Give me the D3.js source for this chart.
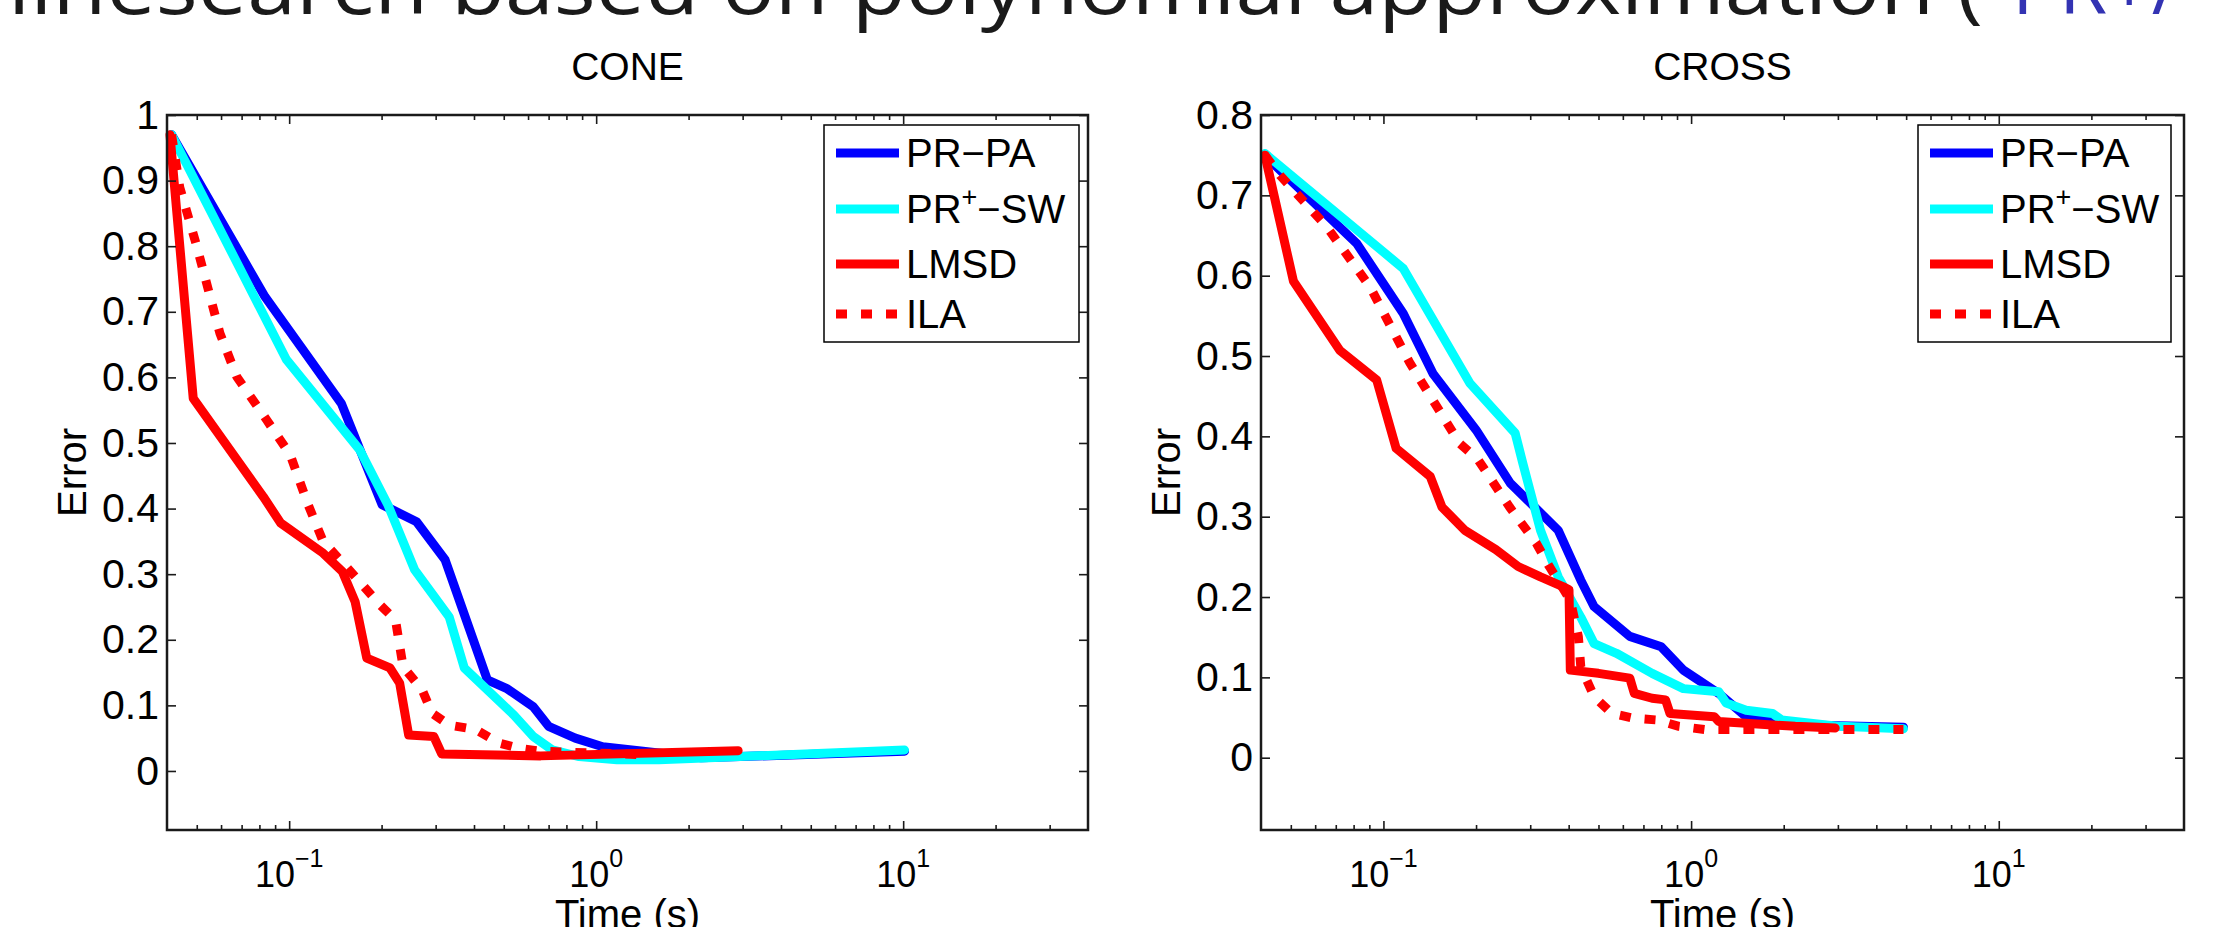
<!DOCTYPE html>
<html><head><meta charset="utf-8">
<script src="https://cdn.jsdelivr.net/npm/d3@7"></script>
<style>html,body{margin:0;padding:0;background:#fff;overflow:hidden}</style>
</head><body><svg id="chart" width="2214" height="927"></svg>
<script>
// ---------- data ----------
const pageTitleBlack = "linesearch based on polynomial approximation (";
const pageTitleBlue = "PR+/";
const panelTitles = ["CONE", "CROSS"];
const seriesNames = ["PR−PA", "PR+−SW", "LMSD", "ILA"];
const xLabel = "Time (s)";
const yLabel = "Error";
const xMajorTicks = [0.1, 1, 10];
const xTickExponents = ["−1", "0", "1"];
const coneYTicks = [0, 0.1, 0.2, 0.3, 0.4, 0.5, 0.6, 0.7, 0.8, 0.9, 1];
const coneYTickLabels = ["0", "0.1", "0.2", "0.3", "0.4", "0.5", "0.6", "0.7", "0.8", "0.9", "1"];
const crossYTicks = [0, 0.1, 0.2, 0.3, 0.4, 0.5, 0.6, 0.7, 0.8];
const crossYTickLabels = ["0", "0.1", "0.2", "0.3", "0.4", "0.5", "0.6", "0.7", "0.8"];

// CONE
const conePRPA_t = [0.0414, 0.0834, 0.148, 0.2007, 0.26, 0.322, 0.442, 0.51, 0.624, 0.70, 0.855, 1.05, 2.2, 10.1];
const conePRPA_e = [0.97, 0.723, 0.56, 0.406, 0.38, 0.322, 0.139, 0.126, 0.098, 0.068, 0.05, 0.037, 0.02, 0.03];
const conePRSW_t = [0.0414, 0.098, 0.17, 0.21, 0.256, 0.332, 0.372, 0.54, 0.624, 0.72, 0.88, 1.17, 1.6, 10.1];
const conePRSW_e = [0.97, 0.627, 0.489, 0.405, 0.307, 0.235, 0.157, 0.085, 0.0525, 0.032, 0.022, 0.017, 0.017, 0.032];
const coneLMSD_t = [0.0409, 0.0487, 0.0824, 0.0938, 0.129, 0.149, 0.164, 0.179, 0.213, 0.229, 0.245, 0.296, 0.314, 0.66, 2.9];
const coneLMSD_e = [0.97, 0.568, 0.418, 0.378, 0.332, 0.304, 0.258, 0.172, 0.157, 0.134, 0.055, 0.0525, 0.026, 0.023, 0.031];
const coneILA_t = [0.0414, 0.044, 0.05, 0.0595, 0.0675, 0.0845, 0.1008, 0.1148, 0.129, 0.153, 0.198, 0.222, 0.235, 0.271, 0.292, 0.332, 0.406, 0.482, 0.556, 0.66, 1.4];
const coneILA_e = [0.97, 0.89, 0.80, 0.667, 0.601, 0.535, 0.482, 0.408, 0.35, 0.312, 0.253, 0.23, 0.159, 0.124, 0.088, 0.07, 0.063, 0.0425, 0.035, 0.03, 0.025];

// CROSS
const crossPRPA_t = [0.0412, 0.0461, 0.0819, 0.116, 0.145, 0.2, 0.258, 0.37, 0.438, 0.484, 0.632, 0.8, 0.944, 1.23, 1.51, 2.18, 4.9];
const crossPRPA_e = [0.75, 0.7315, 0.64, 0.553, 0.478, 0.408, 0.342, 0.283, 0.221, 0.188, 0.151, 0.138, 0.109, 0.08, 0.051, 0.041, 0.038];
const crossPRSW_t = [0.0412, 0.116, 0.191, 0.268, 0.284, 0.324, 0.37, 0.438, 0.484, 0.572, 0.747, 0.944, 1.23, 1.3, 1.51, 1.84, 1.97, 3.04, 4.9];
const crossPRSW_e = [0.752, 0.609, 0.466, 0.404, 0.366, 0.283, 0.225, 0.175, 0.142, 0.13, 0.105, 0.086, 0.082, 0.068, 0.059, 0.055, 0.047, 0.039, 0.036];
const crossLMSD_t = [0.0412, 0.051, 0.0722, 0.0951, 0.11, 0.142, 0.155, 0.184, 0.232, 0.274, 0.324, 0.383, 0.401, 0.405, 0.5, 0.632, 0.654, 0.747, 0.826, 0.854, 1.19, 1.23, 2.18, 2.94];
const crossLMSD_e = [0.75, 0.593, 0.507, 0.47, 0.385, 0.35, 0.312, 0.283, 0.259, 0.238, 0.225, 0.213, 0.209, 0.109, 0.105, 0.099, 0.08, 0.074, 0.072, 0.055, 0.051, 0.045, 0.039, 0.037];
const crossILA_t = [0.0412, 0.0461, 0.0654, 0.0905, 0.122, 0.177, 0.203, 0.257, 0.314, 0.346, 0.405, 0.43, 0.438, 0.484, 0.553, 0.654, 0.772, 0.913, 1.11, 4.9];
const crossILA_e = [0.75, 0.725, 0.661, 0.586, 0.491, 0.391, 0.371, 0.312, 0.267, 0.238, 0.196, 0.151, 0.113, 0.076, 0.055, 0.049, 0.047, 0.039, 0.035, 0.035];

// ---------- styles ----------
const seriesColors = ["#0000ff", "#00ffff", "#ff0000", "#ff0000"];
const seriesDash = [null, null, null, "11,14"];
const FONT = "'Liberation Sans', Arial, Helvetica, sans-serif";

const svg = d3.select("#chart");

// page (slide) title, cut at the top as in the reference
svg.append("text")
  .attr("x", 8).attr("y", 14)
  .attr("textLength", 1975).attr("lengthAdjust", "spacingAndGlyphs")
  .style("font-family", "'Open Sans', 'DejaVu Sans', sans-serif")
  .style("font-size", "78px").attr("fill", "#1a1a1a")
  .text(pageTitleBlack);
svg.append("text")
  .attr("x", 2012).attr("y", 14)
  .style("font-family", "'Open Sans', 'DejaVu Sans', sans-serif")
  .style("font-size", "78px").attr("fill", "#3333b3")
  .text(pageTitleBlue);

const panels = [
  { title: panelTitles[0], left: 167, right: 1088, top: 115, bottom: 830, ymin: -0.09, ymax: 1,
    yTicks: coneYTicks, yTickLabels: coneYTickLabels,
    series: [[conePRPA_t, conePRPA_e], [conePRSW_t, conePRSW_e], [coneLMSD_t, coneLMSD_e], [coneILA_t, coneILA_e]],
    legend: { x: 824, y: 125, w: 255, h: 217 } },
  { title: panelTitles[1], left: 1261, right: 2184, top: 115, bottom: 830, ymin: -0.09, ymax: 0.8,
    yTicks: crossYTicks, yTickLabels: crossYTickLabels,
    series: [[crossPRPA_t, crossPRPA_e], [crossPRSW_t, crossPRSW_e], [crossLMSD_t, crossLMSD_e], [crossILA_t, crossILA_e]],
    legend: { x: 1918, y: 125, w: 253, h: 217 } }
];

// minor ticks 2..9 per decade inside domain
const xDomain = [0.04, 40];
const xMinorTicks = [];
[0.01, 0.1, 1, 10].forEach(d => { for (let k = 2; k <= 9; k++) { const v = d * k; if (v > xDomain[0] * 1.0001 && v < xDomain[1] * 0.9999) xMinorTicks.push(v); } });

panels.forEach(p => {
  const x = d3.scaleLog().domain(xDomain).range([p.left, p.right]);
  const y = d3.scaleLinear().domain([p.ymin, p.ymax]).range([p.bottom, p.top]);
  const g = svg.append("g");

  // lines
  const line = d3.line().x(d => x(d[0])).y(d => y(d[1]));
  p.series.forEach((s, i) => {
    const pts = s[0].map((t, j) => [t, s[1][j]]);
    g.append("path").datum(pts)
      .attr("d", line)
      .attr("fill", "none")
      .attr("stroke", seriesColors[i])
      .attr("stroke-width", 9)
      .attr("stroke-linejoin", "round")
      .attr("stroke-linecap", seriesDash[i] ? "butt" : "round")
      .attr("stroke-dasharray", seriesDash[i]);
  });

  // axes (ticks inward)
  const axStyle = sel => {
    sel.select(".domain").remove();
    sel.selectAll(".tick line").attr("stroke", "#1a1a1a").attr("stroke-width", 1.6);
  };
  g.append("g").attr("transform", `translate(0,${p.bottom})`)
    .call(d3.axisBottom(x).tickValues(xMajorTicks).tickSize(-9).tickFormat("")).call(axStyle);
  g.append("g").attr("transform", `translate(0,${p.bottom})`)
    .call(d3.axisBottom(x).tickValues(xMinorTicks).tickSize(-5).tickFormat("")).call(axStyle);
  g.append("g").attr("transform", `translate(0,${p.top})`)
    .call(d3.axisTop(x).tickValues(xMajorTicks).tickSize(-9).tickFormat("")).call(axStyle);
  g.append("g").attr("transform", `translate(0,${p.top})`)
    .call(d3.axisTop(x).tickValues(xMinorTicks).tickSize(-5).tickFormat("")).call(axStyle);
  const yl = g.append("g").attr("transform", `translate(${p.left},0)`)
    .call(d3.axisLeft(y).tickValues(p.yTicks).tickSize(-9).tickPadding(8).tickFormat((d, i) => p.yTickLabels[i]))
    .call(axStyle);
  yl.selectAll(".tick text").style("font-family", FONT).style("font-size", "41px").attr("fill", "#000");
  g.append("g").attr("transform", `translate(${p.right},0)`)
    .call(d3.axisRight(y).tickValues(p.yTicks).tickSize(-9).tickFormat("")).call(axStyle);

  // box
  g.append("rect").attr("x", p.left).attr("y", p.top)
    .attr("width", p.right - p.left).attr("height", p.bottom - p.top)
    .attr("fill", "none").attr("stroke", "#1a1a1a").attr("stroke-width", 2.5);

  // x tick labels 10^k
  xMajorTicks.forEach((v, i) => {
    const t = g.append("text").attr("x", x(v)).attr("y", 887)
      .attr("text-anchor", "middle")
      .style("font-family", FONT).style("font-size", "36px").attr("fill", "#000");
    t.append("tspan").text("10");
    t.append("tspan").attr("dy", -20).style("font-size", "25px").text(xTickExponents[i]);
  });

  // panel title
  g.append("text").attr("x", (p.left + p.right) / 2).attr("y", 80)
    .attr("text-anchor", "middle")
    .style("font-family", FONT).style("font-size", "39px").attr("fill", "#000")
    .text(p.title);

  // axis labels
  g.append("text").attr("x", (p.left + p.right) / 2).attr("y", 928)
    .attr("text-anchor", "middle")
    .style("font-family", FONT).style("font-size", "40px").attr("fill", "#000")
    .text(xLabel);
  g.append("text")
    .attr("transform", `translate(${p.left - 81},${(p.top + p.bottom) / 2}) rotate(-90)`)
    .attr("text-anchor", "middle")
    .style("font-family", FONT).style("font-size", "40px").attr("fill", "#000")
    .text(yLabel);

  // legend
  const L = p.legend;
  const lg = g.append("g").attr("transform", `translate(${L.x},${L.y})`);
  lg.append("rect").attr("width", L.w).attr("height", L.h)
    .attr("fill", "#fff").attr("stroke", "#000").attr("stroke-width", 1.5);
  const rowY = [28, 84, 139, 189];
  seriesNames.forEach((name, i) => {
    lg.append("line").attr("x1", 12).attr("x2", 75).attr("y1", rowY[i]).attr("y2", rowY[i])
      .attr("stroke", seriesColors[i]).attr("stroke-width", 9)
      .attr("stroke-dasharray", seriesDash[i]);
    const t = lg.append("text").attr("x", 82).attr("y", rowY[i] + 14)
      .style("font-family", FONT).style("font-size", "40px").attr("fill", "#000");
    if (name.indexOf("+") >= 0) {
      const parts = name.split("+");
      t.append("tspan").text(parts[0]);
      t.append("tspan").attr("dy", -17).style("font-size", "27px").text("+");
      t.append("tspan").attr("dy", 17).text(parts[1]);
    } else {
      t.text(name);
    }
  });
});
</script>
</body></html>
